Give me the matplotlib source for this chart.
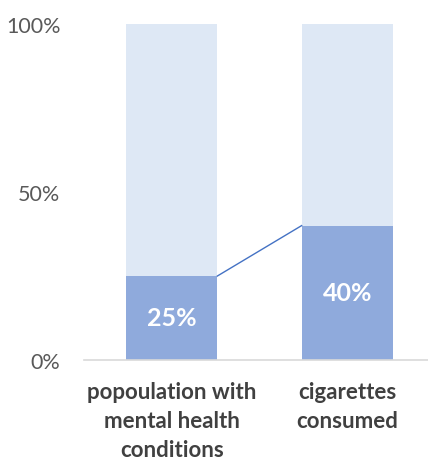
import matplotlib
matplotlib.use("Agg")
import matplotlib.pyplot as plt
from matplotlib.ticker import FuncFormatter

categories = ["popoulation with\nmental health\nconditions", "cigarettes\nconsumed"]
values = [25, 40]
totals = [100, 100]
yticks = [0, 50, 100]

plt.rcParams['font.family'] = ['Lato', 'DejaVu Sans']

fig = plt.figure(figsize=(4.28, 4.60), dpi=100)
ax = fig.add_axes([84/428, 1 - 361/460, 1 - 84/428, (361 - 25)/460])

x = list(range(len(categories)))
w = 0.52
rest = [t - v for t, v in zip(totals, values)]
ax.bar(x, values, width=w, color="#8FAADC", zorder=2)
ax.bar(x, rest, bottom=values, width=w, color="#DEE8F5", zorder=2)

# connector line
ax.plot([x[0] + w/2, x[1] - w/2], [values[0], values[1]], color="#4472C4", lw=1, zorder=3)

for xi, v in zip(x, values):
    ax.text(xi, v/2, f"{v}%", ha="center", va="center", color="white",
            fontsize=18, fontweight="bold", zorder=4)

ax.set_xlim(-0.5, 1.46)
ax.set_ylim(0, 100)
ax.set_yticks(yticks)
ax.yaxis.set_major_formatter(FuncFormatter(lambda v, p: f"{int(v)}%"))
ax.set_xticks(x)
ax.set_xticklabels(categories, fontsize=16, fontweight="bold", color="#404040", linespacing=1.48)
for lab in ax.get_yticklabels():
    lab.set_fontsize(15.5)
    lab.set_color("#595959")
ax.tick_params(axis="both", length=0)
ax.tick_params(axis="y", pad=17)
ax.tick_params(axis="x", pad=15)
for s in ["top", "right", "left"]:
    ax.spines[s].set_visible(False)
ax.spines["bottom"].set_color("#D9D9D9")
ax.spines["bottom"].set_linewidth(1.2)

fig.savefig("out.png", dpi=100)
